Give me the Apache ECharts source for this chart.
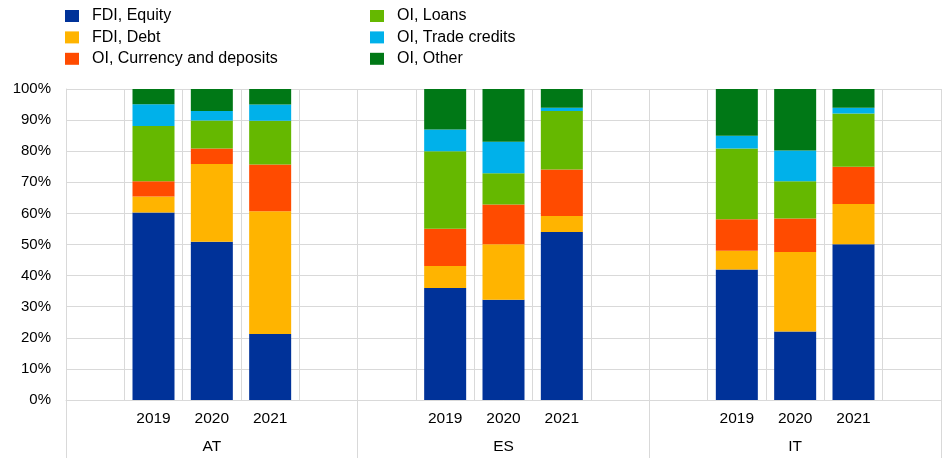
<!DOCTYPE html>
<html>
<head>
<meta charset="utf-8">
<script src="https://cdn.jsdelivr.net/npm/echarts@6/dist/echarts.min.js"></script>
<style>html,body{margin:0;padding:0;background:#fff}#c{width:943px;height:458px}</style>
</head>
<body>
<div id="c"></div>
<script>
// 15 slots: blank, 2019, 2020, 2021, blank for each country
const slots = ['', '2019', '2020', '2021', '', '', '2019', '2020', '2021', '', '', '2019', '2020', '2021', ''];
const countries = ['AT', 'ES', 'IT'];
const seriesNames = ['FDI, Equity', 'FDI, Debt', 'OI, Currency and deposits', 'OI, Loans', 'OI, Trade credits', 'OI, Other'];
const colors = ['#003299', '#ffb400', '#ff4b00', '#65b800', '#00b1ea', '#007816'];
const yTicks = [0, 10, 20, 30, 40, 50, 60, 70, 80, 90, 100];

// values in % (AT 2019-2021, ES 2019-2021, IT 2019-2021)
const fdiEquity = [60.3, 50.9, 21.2, 36.0, 32.2, 54.0, 42.0, 22.0, 50.1];
const fdiDebt = [5.1, 25.0, 39.5, 7.1, 17.9, 5.2, 6.0, 25.6, 12.9];
const oiCurrency = [4.9, 5.0, 15.0, 12.0, 12.8, 14.9, 10.1, 10.8, 12.0];
const oiLoans = [17.8, 9.0, 14.1, 24.9, 10.0, 18.8, 22.8, 11.9, 17.1];
const oiTrade = [7.0, 3.0, 5.2, 7.0, 10.1, 1.1, 4.1, 9.9, 1.9];
const oiOther = [4.9, 7.1, 5.0, 13.0, 17.0, 6.0, 15.0, 19.8, 6.0];

const allValues = [fdiEquity, fdiDebt, oiCurrency, oiLoans, oiTrade, oiOther];

function spread(vals) {
  const out = [];
  let k = 0;
  for (let i = 0; i < slots.length; i++) {
    out.push(slots[i] === '' ? null : vals[k++]);
  }
  return out;
}

const chart = echarts.init(document.getElementById('c'), null, {renderer: 'canvas'});
const font = 'Liberation Sans, Arial, sans-serif';
const grid = '#d9d9d9';

const legendBase = {
  orient: 'vertical', top: 3,
  itemWidth: 14, itemHeight: 12, itemGap: 5.4, icon: 'rect',
  textStyle: {fontSize: 16, color: '#000', fontFamily: font, padding: [0, 0, 0, 8]}
};

chart.setOption({
  animation: false,
  textStyle: {fontFamily: font},
  legend: [
    Object.assign({}, legendBase, {data: seriesNames.slice(0, 3), left: 60}),
    Object.assign({}, legendBase, {data: seriesNames.slice(3), left: 365})
  ],
  grid: {left: 66, right: 2, top: 89, bottom: 58, containLabel: false},
  xAxis: [
    {
      type: 'category', data: slots, position: 'bottom',
      axisLine: {show: true, lineStyle: {color: grid}},
      axisTick: {show: false},
      axisLabel: {interval: 0, margin: 11, fontSize: 15.5, color: '#000', fontFamily: font},
      splitLine: {show: true, interval: 0, lineStyle: {color: grid, width: 1}}
    },
    {
      type: 'category', data: countries, position: 'bottom',
      axisLine: {show: false},
      axisTick: {show: true, length: 58, interval: 0, lineStyle: {color: grid}},
      axisLabel: {interval: 0, margin: 39, fontSize: 15.5, color: '#000', fontFamily: font},
      splitLine: {show: false}
    }
  ],
  yAxis: {
    type: 'value', min: 0, max: 100, interval: 10,
    axisLine: {show: true, lineStyle: {color: grid}},
    axisTick: {show: false},
    axisLabel: {margin: 15, fontSize: 15, color: '#000', fontFamily: font,
      formatter: v => yTicks.includes(v) ? v + '%' : ''},
    splitLine: {show: true, lineStyle: {color: grid, width: 1}}
  },
  series: seriesNames.map((name, i) => ({
    name, type: 'bar', stack: 'total', xAxisIndex: 0,
    barWidth: '72%',
    itemStyle: {color: colors[i]},
    data: spread(allValues[i])
  }))
});
</script>
</body>
</html>
